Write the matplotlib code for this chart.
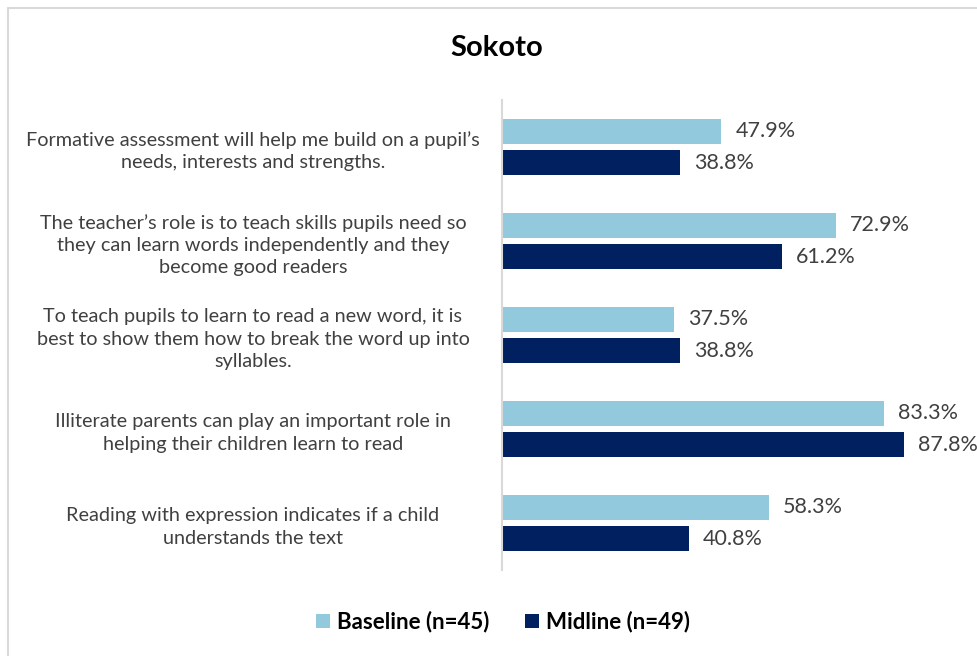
import numpy as np
import matplotlib
matplotlib.use("Agg")
import matplotlib.pyplot as plt
from matplotlib.patches import Rectangle

plt.rcParams['font.family'] = ['Lato', 'DejaVu Sans']

# Survey statements (top to bottom) and percent agreeing
statements = [
    "Formative assessment will help me build on a pupil\u2019s\nneeds, interests and strengths.",
    "The teacher\u2019s role is to teach skills pupils need so\nthey can learn words independently and they\nbecome good readers",
    "To teach pupils to learn to read a new word, it is\nbest to show them how to break the word up into\nsyllables.",
    "Illiterate parents can play an important role in\nhelping their children learn to read",
    "Reading with expression indicates if a child\nunderstands the text",
]
baseline = [47.9, 72.9, 37.5, 83.3, 58.3]
midline = [38.8, 61.2, 38.8, 87.8, 40.8]
series_names = ["Baseline (n=45)", "Midline (n=49)"]
colors = ["#92C9DD", "#002060"]

fig = plt.figure(figsize=(9.77, 6.56), dpi=100)

# light frame around the chart area
fig.patches.append(Rectangle((8 / 977, -0.05), 1.1, 1 - 8 / 656 + 0.05,
                             transform=fig.transFigure, fill=False,
                             edgecolor="#D9D9D9", linewidth=1.5))

ax = fig.add_axes([502 / 977, 1 - 570 / 656, 458 / 977, 470 / 656])

y = np.arange(len(statements))
h = 0.266
off = 0.165
b1 = ax.barh(y - off, baseline, height=h, color=colors[0], label=series_names[0])
b2 = ax.barh(y + off, midline, height=h, color=colors[1], label=series_names[1])

for bars, vals in ((b1, baseline), (b2, midline)):
    for bar, v in zip(bars, vals):
        ax.annotate(f"{v:.1f}%", (v, bar.get_y() + bar.get_height() / 2),
                    xytext=(14, 0), textcoords="offset pixels",
                    va="center", ha="left", fontsize=15.5, color="#404040",
                    annotation_clip=False)

ax.set_xlim(0, 100)
ax.set_ylim(len(statements) - 0.5, -0.5)
ax.set_yticks(y)
ax.set_yticklabels(statements, fontsize=14.3, color="#404040",
                   ha="center", linespacing=1.38)
# labels centred about 250 px left of the axis line
ax.tick_params(axis="y", length=0, pad=249 * 72 / 100)
ax.set_xticks([])
for s in ("top", "right", "bottom"):
    ax.spines[s].set_visible(False)
ax.spines["left"].set_color("#D9D9D9")
ax.spines["left"].set_linewidth(1.5)

fig.text(497 / 977, 1 - 48 / 656, "Sokoto", ha="center", va="center",
         fontsize=21, fontweight="bold", color="black")

fig.legend(handles=[b1, b2], loc="center", bbox_to_anchor=(503 / 977, 1 - 622 / 656),
           ncol=2, frameon=False, prop={"weight": "bold", "size": 16},
           handlelength=0.65, handleheight=0.65, handletextpad=0.3, columnspacing=1.6)

fig.savefig("out.png", dpi=100)
